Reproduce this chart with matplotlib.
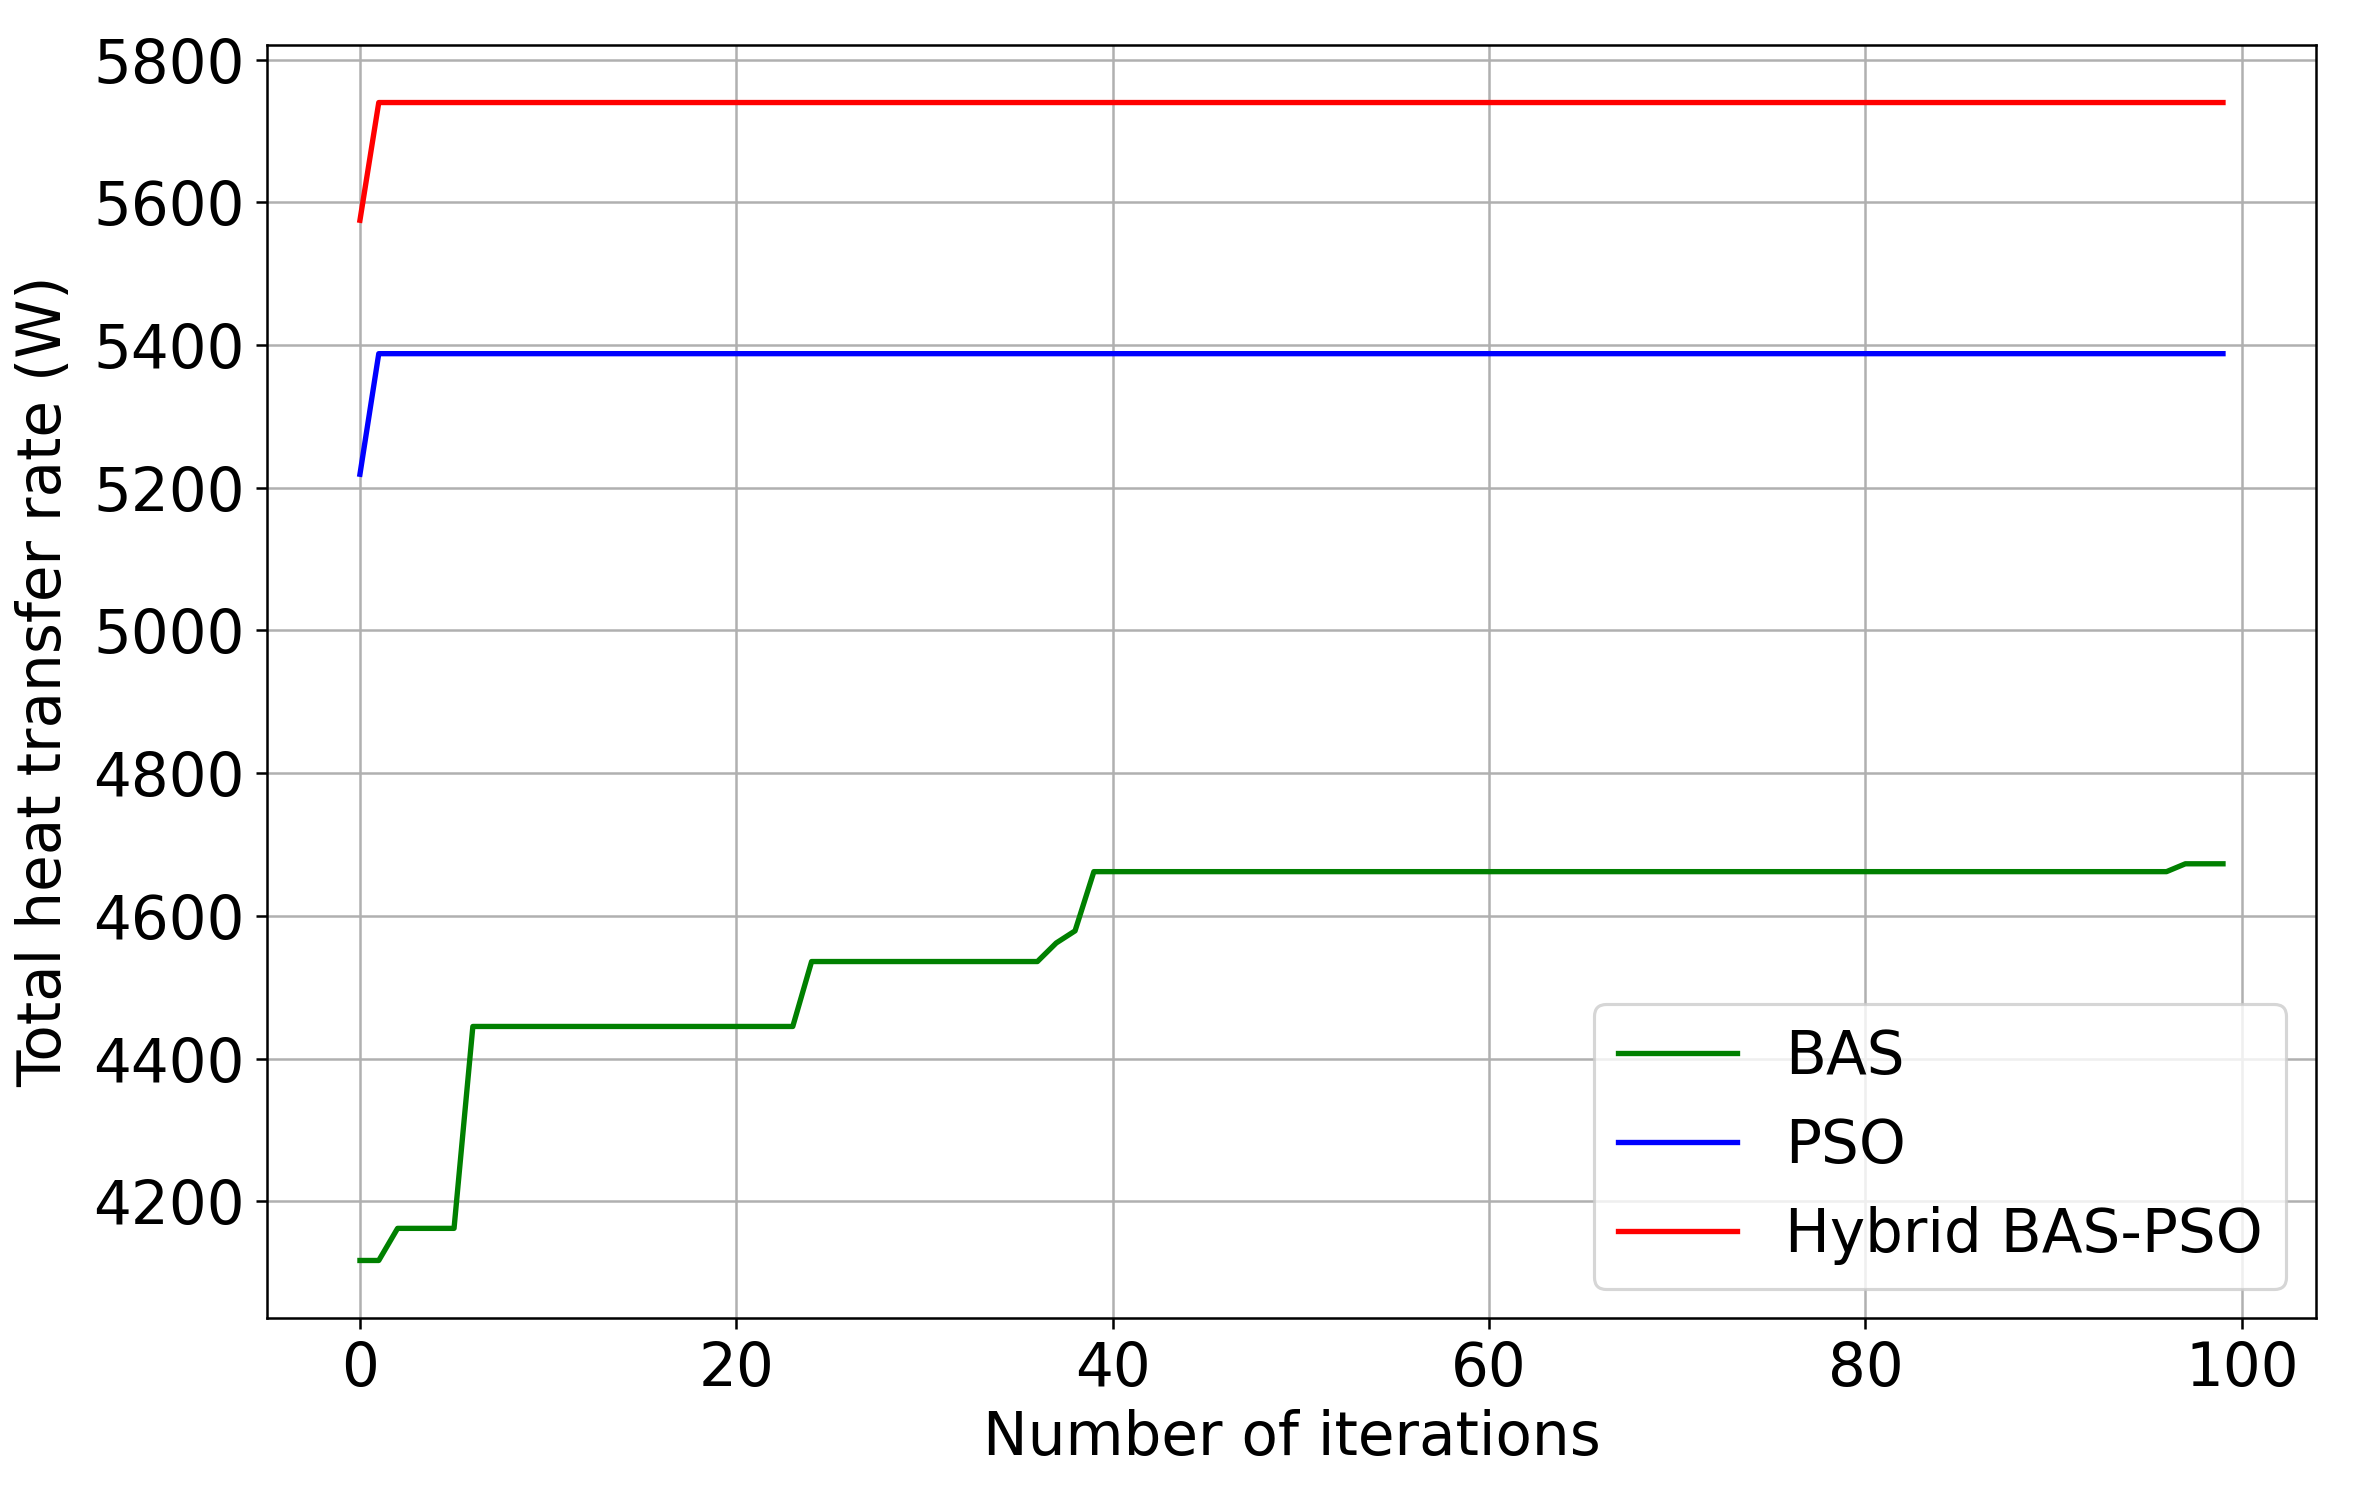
import matplotlib
matplotlib.use("Agg")
import matplotlib.pyplot as plt
import numpy as np

# 迭代次数 0..99
iterations = list(range(100))

bas = [
    4117, 4117, 4162, 4162, 4162, 4162, 4445, 4445, 4445, 4445,
    4445, 4445, 4445, 4445, 4445, 4445, 4445, 4445, 4445, 4445,
    4445, 4445, 4445, 4445, 4536, 4536, 4536, 4536, 4536, 4536,
    4536, 4536, 4536, 4536, 4536, 4536, 4536, 4562, 4579, 4662,
    4662, 4662, 4662, 4662, 4662, 4662, 4662, 4662, 4662, 4662,
    4662, 4662, 4662, 4662, 4662, 4662, 4662, 4662, 4662, 4662,
    4662, 4662, 4662, 4662, 4662, 4662, 4662, 4662, 4662, 4662,
    4662, 4662, 4662, 4662, 4662, 4662, 4662, 4662, 4662, 4662,
    4662, 4662, 4662, 4662, 4662, 4662, 4662, 4662, 4662, 4662,
    4662, 4662, 4662, 4662, 4662, 4662, 4662, 4673, 4673, 4673,
]

pso = [5219] + [5388] * 99
hybrid = [5575] + [5740] * 99

series = [
    ("BAS", bas, "green"),
    ("PSO", pso, "blue"),
    ("Hybrid BAS-PSO", hybrid, "red"),
]

plt.rcParams["font.family"] = ["DejaVu Sans"]
plt.rcParams["font.size"] = 19

fig, ax = plt.subplots(figsize=(2361 / 226, 1488 / 226), dpi=226)
fig.subplots_adjust(left=0.113, right=0.981, bottom=0.114, top=0.970)

for name, vals, color in series:
    ax.plot(iterations, vals, color=color, label=name, linewidth=1.7)

ax.set_xlabel("Number of iterations", labelpad=3)
ax.set_ylabel("Total heat transfer rate (W)", labelpad=6)
ax.set_xticks(np.arange(0, 101, 20))
ax.set_yticks(np.arange(4200, 5801, 200))
ax.grid(True)
ax.legend(loc="lower right")

fig.savefig("out.png", dpi=226)
